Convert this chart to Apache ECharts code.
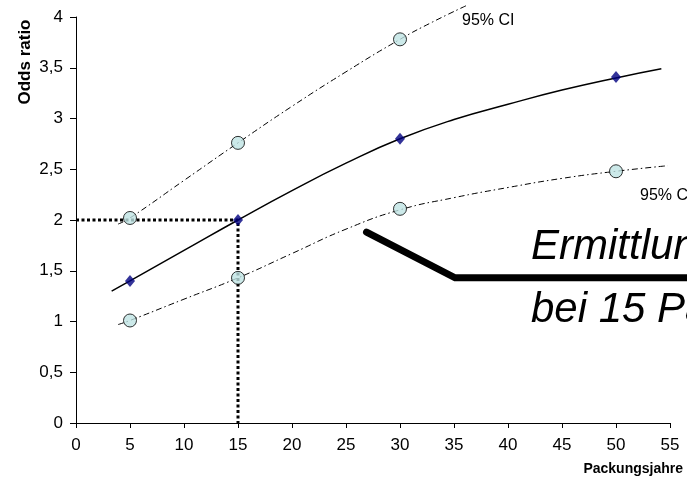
<!DOCTYPE html>
<html>
  <head>
    <title></title>
    <meta charset="UTF-8" />
    <script src="https://cdn.jsdelivr.net/npm/echarts@6/dist/echarts.min.js"></script>
  </head>
  <body style="margin:0">
    <div id="main"></div>
    <script>
      const width = 687;
      const height = 486;
      const main = document.getElementById('main');
      main.style.width = `${width}px`;
      main.style.height = `${height}px`;

      // measured points
      const pointX = [5, 15, 30, 50];
      const oddsRatio = [1.40, 2.00, 2.80, 3.41];
      const upperX = [5, 15, 30];
      const upperCI = [2.02, 2.76, 3.78];
      const lowerCI = [1.01, 1.43, 2.11, 2.48];

      // fitted curves
      const trendX = [3.3, 5, 10, 15, 20, 25, 30, 35, 40, 45, 50, 54.2];
      const trendY = [1.30, 1.40, 1.70, 2.00, 2.29, 2.56, 2.80, 2.99, 3.14, 3.28, 3.40, 3.49];
      const upperCurveX = [3.9, 5, 10, 15, 20, 25, 30, 33, 36.3];
      const upperCurveY = [1.96, 2.02, 2.39, 2.76, 3.12, 3.46, 3.78, 3.95, 4.12];
      const lowerCurveX = [3.9, 5, 10, 15, 20, 25, 30, 35, 40, 45, 50, 54.8];
      const lowerCurveY = [0.97, 1.01, 1.22, 1.43, 1.67, 1.91, 2.10, 2.22, 2.32, 2.41, 2.48, 2.535];

      // read-off at 15 pack years
      const readX = [0, 15, 15];
      const readY = [2, 2, 0];

      // pointer towards the note (runs off the right edge)
      const pointerX = [26.9, 35.1, 59];
      const pointerY = [1.88, 1.43, 1.43];

      const zip = (xs, ys) => xs.map((x, i) => [x, ys[i]]);

      const font = 'Liberation Sans, Arial, sans-serif';
      const ciLine = { color: '#000', width: 1, type: [6, 3, 1.5, 3] };

      const myChart = echarts.init(main);
      const option = {
        animation: false,
        backgroundColor: '#fff',
        textStyle: { fontFamily: font },
        grid: [
          { left: 76, right: 17, top: 17, bottom: 63, outerBoundsMode: 'none' },
          // same scale, wider, so the pointer can leave the plot
          { left: 76, right: -37, top: 17, bottom: 63, outerBoundsMode: 'none' },
        ],
        xAxis: [
          {
            type: 'value',
            min: 0,
            max: 55,
            interval: 5,
            splitLine: { show: false },
            axisLine: { lineStyle: { color: '#000', width: 1 } },
            axisTick: { length: 5, lineStyle: { color: '#000' } },
            axisLabel: { color: '#000', fontSize: 17, margin: 14 },
          },
          { type: 'value', gridIndex: 1, min: 0, max: 60, show: false },
        ],
        yAxis: [
          {
            type: 'value',
            min: 0,
            max: 4,
            interval: 0.5,
            splitLine: { show: false },
            axisLine: { show: true, lineStyle: { color: '#000', width: 1 } },
            axisTick: { show: true, length: 6, lineStyle: { color: '#000' } },
            axisLabel: {
              color: '#000',
              fontSize: 17,
              margin: 13,
              formatter: (v) => String(v).replace('.', ','),
            },
          },
          { type: 'value', gridIndex: 1, min: 0, max: 4, show: false },
        ],
        graphic: [
          {
            type: 'text',
            x: 25,
            y: 62,
            rotation: Math.PI / 2,
            style: {
              text: 'Odds ratio',
              font: 'bold 17px ' + font,
              fill: '#000',
              align: 'center',
              verticalAlign: 'middle',
            },
          },
          {
            type: 'text',
            x: 683,
            y: 469,
            style: {
              text: 'Packungsjahre',
              font: 'bold 14px ' + font,
              fill: '#000',
              align: 'right',
              verticalAlign: 'middle',
            },
          },
          {
            type: 'text',
            x: 462,
            y: 21,
            style: {
              text: '95% CI',
              font: '16px ' + font,
              fill: '#000',
              verticalAlign: 'middle',
            },
          },
          {
            type: 'text',
            x: 640,
            y: 196,
            style: {
              text: '95% CI',
              font: '16px ' + font,
              fill: '#000',
              verticalAlign: 'middle',
            },
          },
          {
            type: 'text',
            x: 531,
            y: 247,
            style: {
              text: 'Ermittlung der Odds ratio',
              font: 'italic 42px ' + font,
              fill: '#000',
              verticalAlign: 'middle',
            },
          },
          {
            type: 'text',
            x: 531,
            y: 310,
            style: {
              text: 'bei 15 Packungsjahren',
              font: 'italic 42px ' + font,
              fill: '#000',
              verticalAlign: 'middle',
            },
          },
        ],
        series: [
          {
            type: 'line',
            data: zip(readX, readY),
            showSymbol: false,
            lineStyle: { color: '#000', width: 3, type: [3, 2.5] },
            z: 1,
          },
          {
            type: 'line',
            data: zip(trendX, trendY),
            smooth: 0.5,
            showSymbol: false,
            lineStyle: { color: '#000', width: 1.5 },
          },
          {
            type: 'line',
            data: zip(upperCurveX, upperCurveY),
            smooth: 0.5,
            clip: false,
            showSymbol: false,
            lineStyle: ciLine,
          },
          {
            type: 'line',
            data: zip(lowerCurveX, lowerCurveY),
            smooth: 0.5,
            showSymbol: false,
            lineStyle: ciLine,
          },
          {
            type: 'line',
            xAxisIndex: 1,
            yAxisIndex: 1,
            data: zip(pointerX, pointerY),
            showSymbol: false,
            lineStyle: { color: '#000', width: 7, cap: 'round', join: 'miter' },
          },
          {
            type: 'scatter',
            data: zip(upperX, upperCI).concat(zip(pointX, lowerCI)),
            symbol: 'circle',
            symbolSize: 13,
            clip: false,
            itemStyle: { color: '#bfe3e3', borderColor: '#000', borderWidth: 1 },
            z: 4,
          },
          {
            type: 'scatter',
            data: zip(pointX, oddsRatio),
            symbol: 'diamond',
            symbolSize: [10, 12],
            itemStyle: { color: '#00007f' },
            z: 5,
          },
        ],
      };
      myChart.setOption(option);
    </script>
  </body>
</html>
